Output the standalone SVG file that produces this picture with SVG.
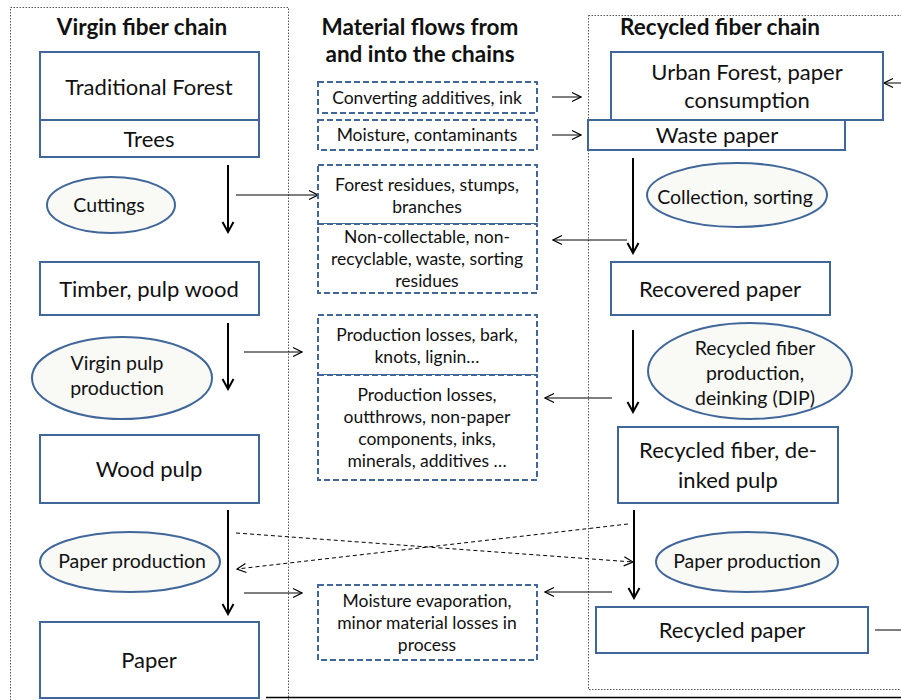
<svg xmlns="http://www.w3.org/2000/svg" width="901" height="700" viewBox="0 0 901 700">
<style>
text{font-family:Lato,"Liberation Sans",Arial,sans-serif;fill:#111;text-anchor:middle}
.t{font-weight:bold;font-size:22.5px}
.b{fill:#fff;stroke:#41679a;stroke-width:2}
.e{fill:#f9f9f6;stroke:#41679a;stroke-width:2}
.d{fill:#fff;stroke:#41679a;stroke-width:2;stroke-dasharray:6 3}
.bt{font-size:22px}
.et{font-size:19.5px}
.mt{font-size:17.5px}
.frame{fill:none;stroke:#555;stroke-width:1;stroke-dasharray:1.5 1.5}
.th{stroke:#000;stroke-width:2;fill:none}
.tn{stroke:#000;stroke-width:1;fill:none}
.ds{stroke:#000;stroke-width:1;fill:none;stroke-dasharray:4 3}
</style>
<defs>
<marker id="ah" markerUnits="userSpaceOnUse" markerWidth="14" markerHeight="14" viewBox="0 0 14 14" refX="12" refY="7" orient="auto"><path d="M2,1.5 L12,7 L2,12.5" fill="none" stroke="#000" stroke-width="2"/></marker>
<marker id="at" markerUnits="userSpaceOnUse" markerWidth="12" markerHeight="12" viewBox="0 0 12 12" refX="11" refY="6" orient="auto"><path d="M2,1.5 L11,6 L2,10.5" fill="none" stroke="#000" stroke-width="1.2"/></marker>
</defs>
<rect width="901" height="700" fill="#fff"/>
<g id="frames">
<rect class="frame" x="10.5" y="7.5" width="278" height="700"/>
<rect class="frame" x="588.5" y="15.5" width="330" height="674"/>
<line x1="266" y1="697.5" x2="901" y2="697.5" stroke="#000" stroke-width="1.5"/>
</g>
<g id="titles">
<text class="t" x="142" y="35">Virgin fiber chain</text>
<text class="t" x="420" y="35">Material flows from</text>
<text class="t" x="420" y="62">and into the chains</text>
<text class="t" x="720" y="35">Recycled fiber chain</text>
</g>
<g id="connectors">
<line class="th" x1="228" y1="165" x2="228" y2="232" marker-end="url(#ah)"/>
<line class="th" x1="228" y1="323" x2="228" y2="389" marker-end="url(#ah)"/>
<line class="th" x1="228" y1="510" x2="228" y2="614" marker-end="url(#ah)"/>
<line class="tn" x1="236" y1="195" x2="318" y2="195" marker-end="url(#at)"/>
<line class="tn" x1="244" y1="352" x2="302" y2="352" marker-end="url(#at)"/>
<line class="tn" x1="244" y1="593" x2="302" y2="593" marker-end="url(#at)"/>
<line class="ds" x1="236" y1="533" x2="633" y2="562" marker-end="url(#at)"/>
<line class="ds" x1="628" y1="524" x2="237" y2="569" marker-end="url(#at)"/>
<line class="tn" x1="552" y1="97" x2="581" y2="97" marker-end="url(#at)"/>
<line class="tn" x1="552" y1="135" x2="581" y2="135" marker-end="url(#at)"/>
<line class="tn" x1="901" y1="83" x2="884" y2="83" marker-end="url(#at)"/>
<line class="th" x1="633" y1="158" x2="633" y2="253" marker-end="url(#ah)"/>
<line class="th" x1="633" y1="330" x2="633" y2="412" marker-end="url(#ah)"/>
<line class="th" x1="634" y1="510" x2="634" y2="598" marker-end="url(#ah)"/>
<line class="tn" x1="627" y1="240" x2="553" y2="240" marker-end="url(#at)"/>
<line class="tn" x1="612" y1="398" x2="545" y2="398" marker-end="url(#at)"/>
<line class="tn" x1="612" y1="592" x2="545" y2="592" marker-end="url(#at)"/>
<line class="tn" x1="875" y1="630" x2="901" y2="630"/>
</g>
<g id="traditional-forest"><rect class="b" x="40" y="52" width="219" height="68"/><text class="bt" x="149" y="95">Traditional Forest</text></g>
<g id="trees"><rect class="b" x="40" y="120" width="219" height="37"/><text class="bt" x="149" y="147">Trees</text></g>
<g id="cuttings"><ellipse class="e" cx="111" cy="205" rx="64" ry="28"/><text class="et" x="109" y="212">Cuttings</text></g>
<g id="timber"><rect class="b" x="40" y="262" width="219" height="53"/><text class="bt" x="149" y="297">Timber, pulp wood</text></g>
<g id="virgin-pulp-production"><ellipse class="e" cx="122" cy="378" rx="90" ry="41"/><text class="et" x="117" y="370">Virgin pulp</text><text class="et" x="117" y="395">production</text></g>
<g id="wood-pulp"><rect class="b" x="40" y="435" width="219" height="68"/><text class="bt" x="149" y="477">Wood pulp</text></g>
<g id="paper-production-virgin"><ellipse class="e" cx="130" cy="562" rx="90" ry="30"/><text class="et" x="132" y="568">Paper production</text></g>
<g id="paper"><rect class="b" x="40" y="622" width="219" height="76"/><text class="bt" x="149" y="668">Paper</text></g>
<g id="converting-additives"><rect class="d" x="318" y="82" width="219" height="31"/><text class="mt" x="427" y="104">Converting additives, ink</text></g>
<g id="moisture-contaminants"><rect class="d" x="318" y="120" width="219" height="30"/><text class="mt" x="427" y="141">Moisture, contaminants</text></g>
<g id="forest-residues"><rect class="d" x="318" y="165" width="219" height="59"/><text class="mt" x="427" y="191">Forest residues, stumps,</text><text class="mt" x="427" y="213">branches</text></g>
<g id="non-collectable"><rect class="d" x="318" y="224" width="219" height="69"/><text class="mt" x="427" y="243">Non-collectable, non-</text><text class="mt" x="427" y="265">recyclable, waste, sorting</text><text class="mt" x="427" y="287">residues</text></g>
<g id="production-losses-bark"><rect class="d" x="318" y="315" width="219" height="60"/><text class="mt" x="427" y="341">Production losses, bark,</text><text class="mt" x="427" y="363">knots, lignin…</text></g>
<g id="production-losses-outthrows"><rect class="d" x="318" y="375" width="219" height="105"/><text class="mt" x="427" y="401">Production losses,</text><text class="mt" x="427" y="423">outthrows, non-paper</text><text class="mt" x="427" y="445">components, inks,</text><text class="mt" x="427" y="467">minerals, additives …</text></g>
<g id="moisture-evaporation"><rect class="d" x="318" y="585" width="219" height="75"/><text class="mt" x="427" y="607">Moisture evaporation,</text><text class="mt" x="427" y="629">minor material losses in</text><text class="mt" x="427" y="651">process</text></g>
<g id="waste-paper"><rect class="b" x="588" y="120" width="257" height="30"/><text class="bt" x="717" y="143">Waste paper</text></g>
<g id="urban-forest"><rect class="b" x="611" y="52" width="272" height="68"/><text class="bt" x="747" y="80">Urban Forest, paper</text><text class="bt" x="747" y="108">consumption</text></g>
<g id="collection-sorting"><ellipse class="e" cx="737" cy="195" rx="90" ry="32"/><text class="et" x="735" y="204">Collection, sorting</text></g>
<g id="recovered-paper"><rect class="b" x="611" y="262" width="219" height="53"/><text class="bt" x="720" y="297">Recovered paper</text></g>
<g id="recycled-fiber-production"><ellipse class="e" cx="750" cy="371" rx="102" ry="48"/><text class="et" x="755" y="355">Recycled fiber</text><text class="et" x="755" y="380">production,</text><text class="et" x="755" y="405">deinking (DIP)</text></g>
<g id="recycled-fiber-pulp"><rect class="b" x="618" y="427" width="220" height="76"/><text class="bt" x="728" y="458">Recycled fiber, de-</text><text class="bt" x="728" y="488">inked pulp</text></g>
<g id="paper-production-recycled"><ellipse class="e" cx="747" cy="562" rx="91" ry="30"/><text class="et" x="747" y="568">Paper production</text></g>
<g id="recycled-paper"><rect class="b" x="596" y="607" width="272" height="46"/><text class="bt" x="732" y="638">Recycled paper</text></g>
</svg>
